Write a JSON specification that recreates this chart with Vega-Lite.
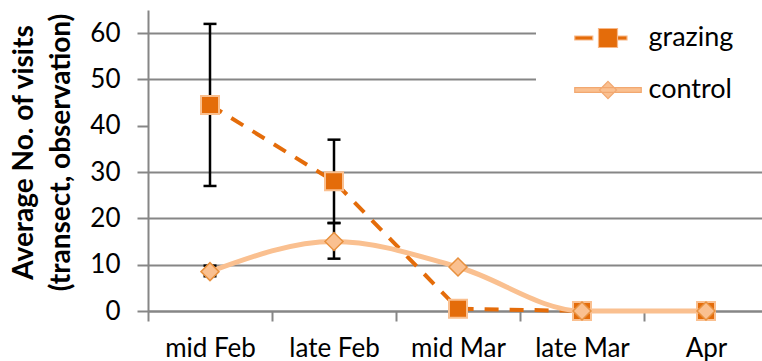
{
  "$schema": "https://vega.github.io/schema/vega-lite/v6.json",
  "width": 614,
  "height": 301,
  "autosize": "none",
  "padding": {"left": 148, "top": 10, "right": 0, "bottom": 50},
  "background": "white",
  "config": {
    "font": "Lato",
    "view": {"stroke": null},
    "legend": {
      "orient": "none",
      "legendX": 388,
      "legendY": -44,
      "fillColor": "white",
      "padding": 58.5,
      "labelFontSize": 27,
      "labelColor": "black",
      "symbolSize": 361,
      "labelOffset": 27,
      "rowPadding": 24,
      "symbolStrokeWidth": 1.2
    }
  },
  "datasets": {
    "main": [
      {"period": "mid Feb", "series": "grazing", "value": 44.5, "low": 27, "high": 62},
      {"period": "late Feb", "series": "grazing", "value": 28, "low": 19, "high": 37},
      {"period": "mid Mar", "series": "grazing", "value": 0.5},
      {"period": "late Mar", "series": "grazing", "value": 0},
      {"period": "Apr", "series": "grazing", "value": 0},
      {"period": "mid Feb", "series": "control", "value": 8.5, "low": 7.5, "high": 9.8},
      {"period": "late Feb", "series": "control", "value": 15, "low": 11.3, "high": 19},
      {"period": "mid Mar", "series": "control", "value": 9.5},
      {"period": "late Mar", "series": "control", "value": 0},
      {"period": "Apr", "series": "control", "value": 0}
    ]
  },
  "data": {"name": "main"},
  "encoding": {
    "x": {
      "field": "period",
      "type": "nominal",
      "sort": ["mid Feb", "late Feb", "mid Mar", "late Mar", "Apr"],
      "scale": {"range": [0, 620], "paddingInner": 0, "paddingOuter": 0},
      "axis": {
        "title": null,
        "tickBand": "extent",
        "tickSize": 10,
        "tickColor": "#868686",
        "tickWidth": 2,
        "domainColor": "#868686",
        "domainWidth": 2,
        "labelFontSize": 26,
        "labelColor": "black",
        "labelPadding": 14,
        "labelAngle": 0,
        "grid": false
      }
    }
  },
  "layer": [
    {
      "transform": [{"filter": "datum.series === 'grazing'"}],
      "mark": {"type": "line", "color": "#E46C0A", "strokeWidth": 4, "strokeDash": [14, 11]},
      "encoding": {
        "y": {
          "field": "value",
          "type": "quantitative",
          "scale": {"domain": [0, 65], "nice": false},
          "axis": {
            "values": [0, 10, 20, 30, 40, 50, 60],
            "grid": true,
            "gridColor": "#868686",
            "gridWidth": 2,
            "gridOpacity": {"condition": {"test": "datum.value === 40", "value": 0}, "value": 1},
            "tickSize": 11,
            "tickColor": "#868686",
            "tickWidth": 2,
            "domainColor": "#868686",
            "domainWidth": 2,
            "labelFontSize": 26,
            "labelColor": "black",
            "labelPadding": 17,
            "title": ["Average No. of visits", "(transect, observation)"],
            "titleFontSize": 28,
            "titleFontWeight": "bold",
            "titleColor": "black",
            "titleLineHeight": 37,
            "titlePadding": 14,
            "titleY": 142
          }
        }
      }
    },
    {
      "transform": [{"filter": "datum.series === 'grazing' && isValid(datum.low)"}],
      "mark": {"type": "rule", "color": "black", "strokeWidth": 2.5},
      "encoding": {"y": {"field": "low", "type": "quantitative"}, "y2": {"field": "high"}}
    },
    {
      "transform": [{"filter": "datum.series === 'grazing' && isValid(datum.low)"}],
      "mark": {"type": "tick", "color": "black", "thickness": 2.5, "size": 13, "opacity": 1},
      "encoding": {"y": {"field": "low", "type": "quantitative"}}
    },
    {
      "transform": [{"filter": "datum.series === 'grazing' && isValid(datum.low)"}],
      "mark": {"type": "tick", "color": "black", "thickness": 2.5, "size": 13, "opacity": 1},
      "encoding": {"y": {"field": "high", "type": "quantitative"}}
    },
    {
      "transform": [{"filter": "datum.series === 'grazing'"}],
      "mark": {"type": "point", "shape": "square", "filled": true, "fill": "#E46C0A", "stroke": "#FAC090", "strokeWidth": 2, "size": 324, "opacity": 1},
      "encoding": {"y": {"field": "value", "type": "quantitative"}}
    },
    {
      "transform": [{"filter": "datum.series === 'control'"}],
      "mark": {"type": "line", "color": "#FAC090", "strokeWidth": 5, "interpolate": "monotone"},
      "encoding": {"y": {"field": "value", "type": "quantitative"}}
    },
    {
      "transform": [{"filter": "datum.series === 'control' && isValid(datum.low)"}],
      "mark": {"type": "rule", "color": "black", "strokeWidth": 2.5},
      "encoding": {"y": {"field": "low", "type": "quantitative"}, "y2": {"field": "high"}}
    },
    {
      "transform": [{"filter": "datum.series === 'control' && isValid(datum.low)"}],
      "mark": {"type": "tick", "color": "black", "thickness": 2.5, "size": 13, "opacity": 1},
      "encoding": {"y": {"field": "low", "type": "quantitative"}}
    },
    {
      "transform": [{"filter": "datum.series === 'control' && isValid(datum.low)"}],
      "mark": {"type": "tick", "color": "black", "thickness": 2.5, "size": 13, "opacity": 1},
      "encoding": {"y": {"field": "high", "type": "quantitative"}}
    },
    {
      "transform": [{"filter": "datum.series === 'control'"}],
      "mark": {"type": "point", "shape": "diamond", "filled": true, "fill": "#FAC090", "stroke": "#E8913F", "strokeWidth": 1.5, "size": 324, "opacity": 1},
      "encoding": {"y": {"field": "value", "type": "quantitative"}}
    },
    {
      "transform": [{"filter": "false"}],
      "mark": {"type": "point", "filled": true, "opacity": 1},
      "encoding": {
        "y": {"field": "value", "type": "quantitative"},
        "shape": {
          "field": "series",
          "type": "nominal",
          "scale": {
            "domain": ["grazing", "control"],
            "range": [
              "M-3.5,-0.21H-1.6V0.21H-3.5Z M1,-0.21H2V0.21H1Z M-1,-1H1V1H-1Z",
              "M-3.5,-0.25H3.5V0.25H-3.5Z M0,-0.9L0.9,0L0,0.9L-0.9,0Z"
            ]
          },
          "legend": {"title": null}
        },
        "fill": {
          "field": "series",
          "type": "nominal",
          "scale": {"domain": ["grazing", "control"], "range": ["#E46C0A", "#FAC090"]},
          "legend": {"title": null}
        },
        "stroke": {
          "field": "series",
          "type": "nominal",
          "scale": {"domain": ["grazing", "control"], "range": ["#F8B888", "#F2A870"]},
          "legend": {"title": null}
        }
      }
    }
  ]
}
